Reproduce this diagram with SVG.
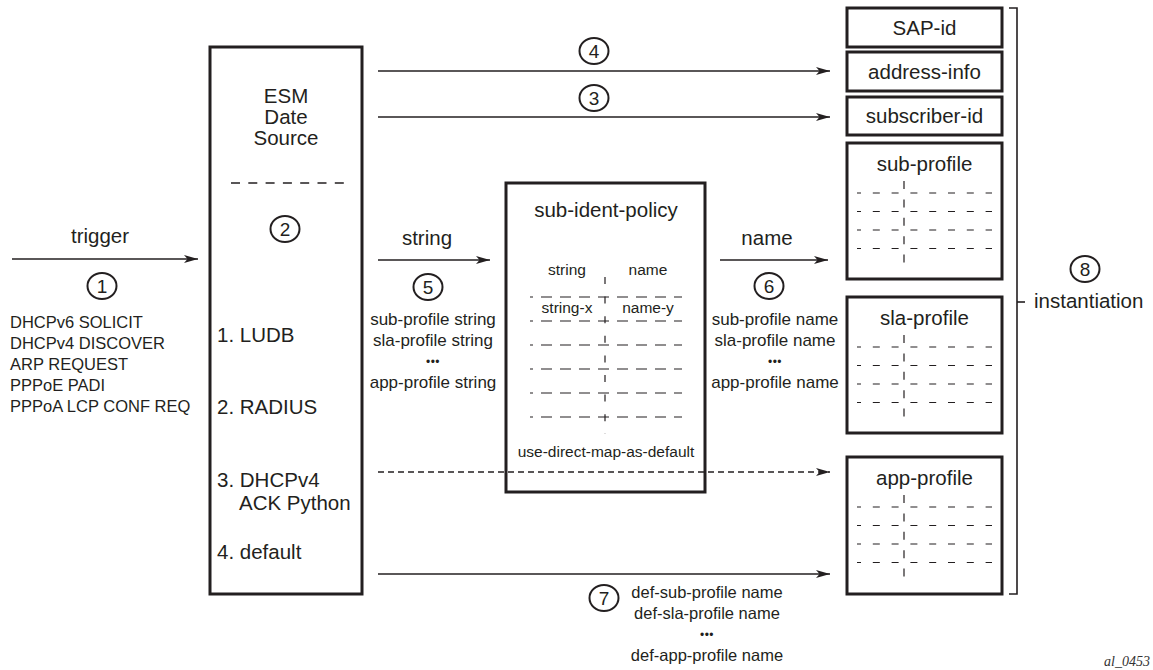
<svg xmlns="http://www.w3.org/2000/svg" width="1153" height="670" viewBox="0 0 1153 670">
  <defs>
    <style>
      text { font-family: "Liberation Sans", Arial, Helvetica, sans-serif; fill: #231f20; }
      .lg { font-size: 20.5px; }
      .md { font-size: 17px; }
      .sm { font-size: 16.5px; }
      .tb { font-size: 15.5px; }
      .nm { font-size: 19px; text-anchor: middle; }
      .dots { font-size: 12px; letter-spacing: 0.5px; text-anchor: middle; }
      .c { text-anchor: middle; }
      .box { fill: #ffffff; stroke: #231f20; stroke-width: 3; }
      .ln { fill: none; stroke: #231f20; stroke-width: 1.6; }
      .arrow { fill: none; stroke: #231f20; stroke-width: 1.6; marker-end: url(#ah); }
      .dashed { stroke-dasharray: 6 4; }
      .sep { fill: none; stroke: #231f20; stroke-width: 1.3; stroke-dasharray: 9 8.3; }
      .row { fill: none; stroke: #231f20; stroke-width: 1.2; stroke-dasharray: 7 11.8; stroke-dashoffset: 3; }
      .col { fill: none; stroke: #231f20; stroke-width: 1.2; stroke-dasharray: 8 10.4; }
      .trow { fill: none; stroke: #231f20; stroke-width: 1.2; stroke-dasharray: 11 8; stroke-dashoffset: 8; }
      .tcol { fill: none; stroke: #231f20; stroke-width: 1.2; stroke-dasharray: 7 12.6; }
      .step { fill: none; stroke: #231f20; stroke-width: 2; }
    </style>
    <marker id="ah" markerWidth="15" markerHeight="9" refX="14" refY="4.5" orient="auto" markerUnits="userSpaceOnUse">
      <path d="M0,0.5 L14,4.5 L0,8.5 L3.5,4.5 Z" fill="#231f20"/>
    </marker>
    <!-- repeated inner grid of a profile box, drawn relative to the box top-left -->
    <g id="profile-grid">
      <line class="row" x1="10" y1="50" x2="145" y2="50"/>
      <line class="row" x1="10" y1="68.5" x2="145" y2="68.5"/>
      <line class="row" x1="10" y1="87" x2="145" y2="87"/>
      <line class="row" x1="10" y1="105.5" x2="145" y2="105.5"/>
      <line class="col" x1="57" y1="38" x2="57" y2="121"/>
    </g>
  </defs>

  <rect width="1153" height="670" fill="#ffffff"/>

  <!-- ESM data source -->
  <g id="esm-data-source">
    <rect class="box" x="210" y="47" width="152" height="547"/>
    <text class="lg c" x="286" y="103">ESM</text>
    <text class="lg c" x="286" y="124">Date</text>
    <text class="lg c" x="286" y="145">Source</text>
    <line class="sep" x1="231" y1="183" x2="352" y2="183"/>
    <ellipse class="step" cx="285" cy="229" rx="14.5" ry="13"/>
    <text class="nm" x="285" y="236">2</text>
    <text class="lg" x="217" y="342">1. LUDB</text>
    <text class="lg" x="217" y="414">2. RADIUS</text>
    <text class="lg" x="217" y="487">3. DHCPv4</text>
    <text class="lg" x="239" y="510">ACK Python</text>
    <text class="lg" x="217" y="559">4. default</text>
  </g>

  <!-- sub-ident-policy -->
  <g id="sub-ident-policy">
    <rect class="box" x="506" y="183" width="199" height="309"/>
    <text class="lg c" x="606" y="217">sub-ident-policy</text>
    <text class="tb c" x="567" y="275">string</text>
    <text class="tb c" x="648" y="275">name</text>
    <text class="tb c" x="567" y="313">string-x</text>
    <text class="tb c" x="648" y="313">name-y</text>
    <line class="trow" x1="530" y1="297" x2="682" y2="297"/>
    <line class="trow" x1="530" y1="321" x2="682" y2="321"/>
    <line class="trow" x1="530" y1="345" x2="682" y2="345"/>
    <line class="trow" x1="530" y1="369" x2="682" y2="369"/>
    <line class="trow" x1="530" y1="393" x2="682" y2="393"/>
    <line class="trow" x1="530" y1="417" x2="682" y2="417"/>
    <line class="tcol" x1="605" y1="277" x2="605" y2="434"/>
    <text class="tb c" x="606" y="457">use-direct-map-as-default</text>
  </g>

  <!-- subscriber host attributes -->
  <g id="sap-id">
    <rect class="box" x="847" y="8" width="155" height="39"/>
    <text class="lg c" x="924.5" y="35">SAP-id</text>
  </g>
  <g id="address-info">
    <rect class="box" x="847" y="52" width="155" height="39"/>
    <text class="lg c" x="924.5" y="79">address-info</text>
  </g>
  <g id="subscriber-id">
    <rect class="box" x="847" y="97" width="155" height="38"/>
    <text class="lg c" x="924.5" y="123">subscriber-id</text>
  </g>
  <g id="sub-profile">
    <rect class="box" x="847" y="143" width="155" height="136"/>
    <text class="lg c" x="924.5" y="171">sub-profile</text>
    <use href="#profile-grid" x="847" y="143"/>
  </g>
  <g id="sla-profile">
    <rect class="box" x="847" y="297" width="155" height="136"/>
    <text class="lg c" x="924.5" y="325">sla-profile</text>
    <use href="#profile-grid" x="847" y="297"/>
  </g>
  <g id="app-profile">
    <rect class="box" x="847" y="457" width="155" height="137"/>
    <text class="lg c" x="924.5" y="485">app-profile</text>
    <use href="#profile-grid" x="847" y="457"/>
  </g>

  <!-- instantiation bracket -->
  <g id="instantiation">
    <path class="ln" d="M1009,8 H1017 V594 H1009"/>
    <line class="ln" x1="1017" y1="302" x2="1025" y2="302"/>
    <ellipse class="step" cx="1085" cy="269" rx="14.5" ry="13"/>
    <text class="nm" x="1085" y="276">8</text>
    <text class="lg" x="1034" y="308">instantiation</text>
  </g>

  <!-- connectors -->
  <g id="connectors">
    <line class="arrow" x1="12" y1="259" x2="198" y2="259"/>
    <line class="arrow" x1="378" y1="71" x2="830" y2="71"/>
    <line class="arrow" x1="378" y1="117" x2="830" y2="117"/>
    <line class="arrow" x1="378" y1="260" x2="490" y2="260"/>
    <line class="arrow" x1="720" y1="260" x2="828" y2="260"/>
    <line class="arrow dashed" x1="378" y1="472" x2="830" y2="472"/>
    <line class="arrow" x1="378" y1="574" x2="830" y2="574"/>
  </g>

  <!-- connector labels -->
  <g id="labels">
    <text class="lg c" x="100" y="243">trigger</text>
    <ellipse class="step" cx="102" cy="286" rx="14.5" ry="13"/>
    <text class="nm" x="102" y="293">1</text>
    <text class="sm" x="10" y="328">DHCPv6 SOLICIT</text>
    <text class="sm" x="10" y="349">DHCPv4 DISCOVER</text>
    <text class="sm" x="10" y="370">ARP REQUEST</text>
    <text class="sm" x="10" y="391">PPPoE PADI</text>
    <text class="sm" x="10" y="412">PPPoA LCP CONF REQ</text>

    <ellipse class="step" cx="594" cy="51" rx="14.5" ry="13"/>
    <text class="nm" x="594" y="58">4</text>
    <ellipse class="step" cx="594" cy="98" rx="14.5" ry="13"/>
    <text class="nm" x="594" y="105">3</text>

    <text class="lg c" x="427" y="245">string</text>
    <ellipse class="step" cx="428" cy="287" rx="14.5" ry="13"/>
    <text class="nm" x="428" y="294">5</text>
    <text class="md c" x="433" y="325">sub-profile string</text>
    <text class="md c" x="433" y="346">sla-profile string</text>
    <text class="dots" x="433" y="366">•••</text>
    <text class="md c" x="433" y="388">app-profile string</text>

    <text class="lg c" x="767" y="245">name</text>
    <ellipse class="step" cx="769" cy="286" rx="14.5" ry="13"/>
    <text class="nm" x="769" y="293">6</text>
    <text class="md c" x="775" y="325">sub-profile name</text>
    <text class="md c" x="775" y="346">sla-profile name</text>
    <text class="dots" x="775" y="366">•••</text>
    <text class="md c" x="775" y="388">app-profile name</text>

    <ellipse class="step" cx="604" cy="598" rx="14.5" ry="13"/>
    <text class="nm" x="604" y="605">7</text>
    <text class="sm c" x="707" y="598">def-sub-profile name</text>
    <text class="sm c" x="707" y="619">def-sla-profile name</text>
    <text class="dots" x="707" y="639">•••</text>
    <text class="sm c" x="707" y="661">def-app-profile name</text>
  </g>

  <text x="1150" y="666" text-anchor="end" style="font-family: 'Liberation Serif', 'Times New Roman', serif; font-style: italic; font-size: 14px; fill: #333333;">al_0453</text>
</svg>
